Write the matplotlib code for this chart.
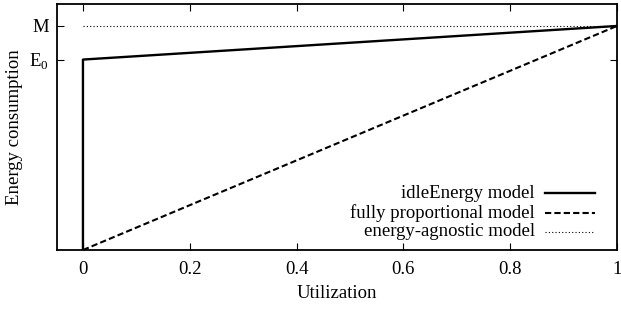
import matplotlib
matplotlib.use("Agg")
import matplotlib.pyplot as plt

plt.rcParams["font.family"] = "Liberation Serif"
plt.rcParams["mathtext.fontset"] = "custom"
plt.rcParams["mathtext.rm"] = "Liberation Serif"

# data
E0 = 0.85
M = 1.0
idle_x = [0, 0, 1]
idle_y = [0, E0, M]
prop_x = [0, 1]
prop_y = [0, M]
agn_x = [0, 1]
agn_y = [M, M]

xticks = [0, 0.2, 0.4, 0.6, 0.8, 1]
xticklabels = ["0", "0.2", "0.4", "0.6", "0.8", "1"]
yticks = [E0, M]
yticklabels = ["E$_{\\mathregular{0}}$", "M"]
labels = ["idleEnergy model", "fully proportional model", "energy-agnostic model"]

fs = 13.5

fig = plt.figure(figsize=(6.21, 3.10), dpi=100)
ax = fig.add_axes([57/621, 60/310, 560/621, 246/310])

ax.plot(idle_x, idle_y, color='black', lw=1.7)
ax.plot(prop_x, prop_y, color='black', lw=1.5, ls=(0, (3, 1.5)))
ax.plot(agn_x, agn_y, color='black', lw=0.8, ls=(0, (1, 2)))

ax.set_xlim(-0.0486, 1.0)
ax.set_ylim(0, 1.098)
ax.set_xticks(xticks)
ax.set_xticklabels(xticklabels)
ax.set_yticks(yticks)
ax.set_yticklabels(yticklabels)
ax.tick_params(direction='in', length=5, width=0.8, top=True, right=True,
               labelsize=fs, pad=8, color='black')
ax.tick_params(axis='y', pad=6)
for s in ax.spines.values():
    s.set_linewidth(1.3)

ax.set_xlabel("Utilization", fontsize=fs, labelpad=5)
ax.set_ylabel("Energy consumption", fontsize=fs, labelpad=4)

# gnuplot-style key: right aligned text, sample on the right
styles = [dict(lw=1.7, ls='-'), dict(lw=1.5, ls=(0, (3, 1.5))), dict(lw=0.8, ls=(0, (1, 2)))]
rows = [193, 213, 232]
for lab, st, yp in zip(labels, styles, rows):
    yf = 1 - (yp - 4) / 246
    ax.text((535 - 57) / 560, yf, lab, transform=ax.transAxes, ha='right', va='center', fontsize=fs)
    ax.plot([(545 - 57) / 560, (595 - 57) / 560], [yf, yf], transform=ax.transAxes, color='black', **st)

fig.savefig("out.png", dpi=100)
